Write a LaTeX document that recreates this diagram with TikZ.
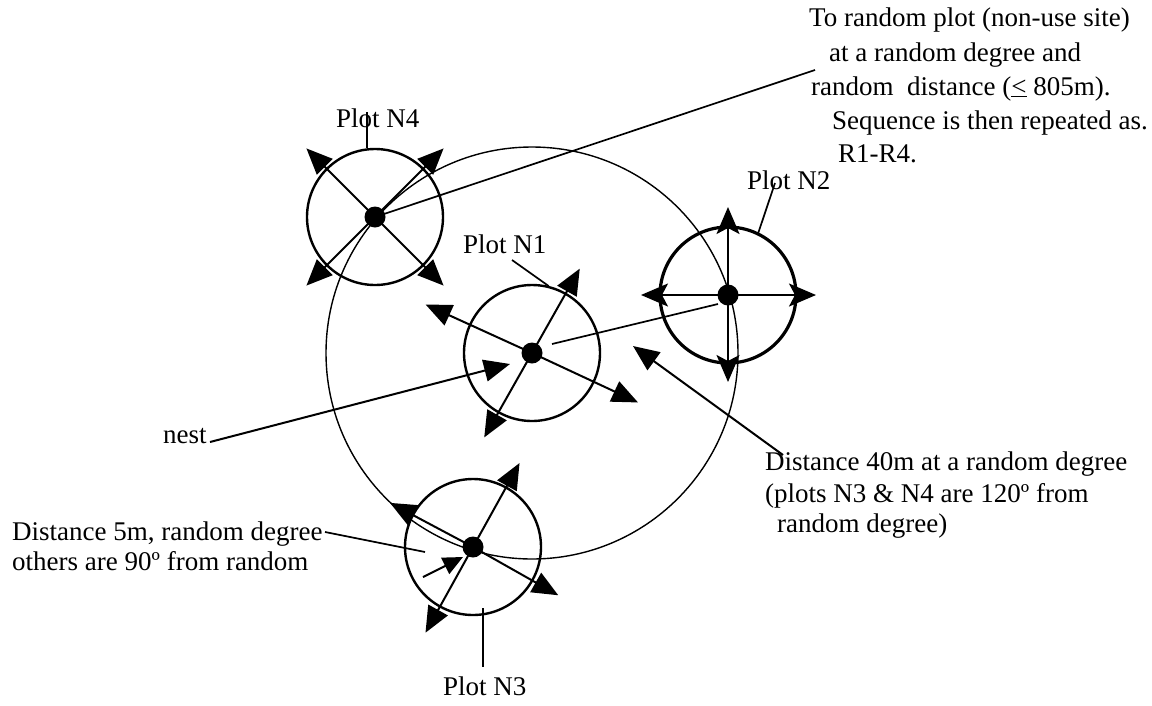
\documentclass[tikz,border=0pt]{standalone}
\usepackage{fontspec}
\setmainfont{Liberation Serif}
\usetikzlibrary{arrows.meta,calc}
\begin{document}
\begin{tikzpicture}[x=1pt,y=-1pt,
  txt/.style={font=\fontsize{27}{33}\selectfont, inner sep=0pt, anchor=base west},
  dot/.style={circle, fill=black, inner sep=0pt, minimum size=21pt},
  ring/.style={circle, draw, line width=2.4pt, inner sep=0pt, minimum size=136pt},
  arr/.style={line width=2pt, -{Triangle[length=26pt,width=22pt]}},
  karr/.style={line width=2pt, -{Stealth[length=27pt,width=23pt,inset=6pt]}},
  lead/.style={line width=1.7pt},
  big/.style={line width=1.4pt},
]
\useasboundingbox (0,0) rectangle (1152,705);

% plot centres
\coordinate (p1) at (532,353);
\coordinate (p2) at (728,295);
\coordinate (p3) at (473,547);
\coordinate (p4) at (375,217);

% large 40 m circle
\draw[big] (p1) circle [radius=206];

% plot circles
\node[ring] (c1) at (p1) {};
\node[ring, line width=3.2pt] (c2) at (p2) {};
\node[ring] (c3) at (p3) {};
\node[ring] (c4) at (p4) {};

% arrow tips
\coordinate (t1a) at ($(p1)+(-60.5:97)$);
\coordinate (t1b) at ($(p1)+(25:117)$);
\coordinate (t1c) at ($(p1)+(-240.5:97)$);
\coordinate (t1d) at ($(p1)+(-155.5:117)$);
\coordinate (t2a) at ($(p2)+(0,-88)$);
\coordinate (t2b) at ($(p2)+(88,0)$);
\coordinate (t2c) at ($(p2)+(0,87)$);
\coordinate (t2d) at ($(p2)+(-87,0)$);
\coordinate (t3a) at ($(p3)+(-61:96)$);
\coordinate (t3b) at ($(p3)+(29.5:98)$);
\coordinate (t3c) at ($(p3)+(-241:98)$);
\coordinate (t3d) at ($(p3)+(-152:94)$);
\coordinate (t4a) at ($(p4)+(-45:97)$);
\coordinate (t4b) at ($(p4)+(-135:97)$);
\coordinate (t4c) at ($(p4)+(-225:97)$);
\coordinate (t4d) at ($(p4)+(-315:97)$);

\foreach \i in {1,3,4}{
  \foreach \j in {a,b,c,d}{
    \draw[arr] (p\i) -- (t\i\j);
  }
}
\foreach \j in {a,b,c,d}{
  \draw[karr] (p2) -- (t2\j);
}

% connectors
\coordinate (rp) at (815,70);
\draw[lead] (p4) -- (rp);
\coordinate (n2s) at (718,304);
\coordinate (n1e) at (552,344);
\draw[lead] (n2s) -- (n1e);

% texts
\node[txt] (l1) at (809,26) {To random plot (non-use site)};
\node[txt] (l2) at (829,61) {at a random degree and};
\node[txt] (l3) at (811,95) {random\ \ distance (\underline{<} 805m).};
\node[txt] (l4) at (832,129) {Sequence is then repeated as.};
\node[txt] (l5) at (838,162) {R1-R4.};

\node[txt] (pn4) at (336,127) {Plot N4};
\node[txt] (pn2) at (747,189) {Plot N2};
\node[txt] (pn1) at (463,253) {Plot N1};
\node[txt] (pn3) at (443,695) {Plot N3};

\node[txt] (nest) at (163,443) {nest};
\node[txt] (d40a) at (765,470) {Distance 40m at a random degree};
\node[txt] (d40b) at (765,502) {(plots N3 \& N4 are 120º from};
\node[txt] (d40c) at (777,532) {random degree)};
\node[txt] (d5a) at (12,540) {Distance 5m, random degree};
\node[txt] (d5b) at (12,570) {others are 90º from random};

% label leaders
\draw[lead] (367,112) -- (c4.north -| 367,0);
\draw[lead] (775,183) -- ($(p2)+(-64:69)$);
\draw[lead] (512,260) -- ($(p1)+(-76:69)$);
\draw[lead] (483,608) -- (483,667);

% pointer arrows
\coordinate (nestS) at (210,442);
\coordinate (nestT) at (510,364);
\draw[arr] (nestS) -- (nestT);
\coordinate (d40S) at (783,455);
\coordinate (d40T) at (633,346);
\draw[arr] (d40S) -- (d40T);
\coordinate (d5S) at (325,532);
\coordinate (d5E) at (425,552);
\draw[lead] (d5S) -- (d5E);
\coordinate (s3S) at (423,577);
\coordinate (s3T) at (463,557);
\draw[line width=2pt, -{Triangle[length=20pt,width=18pt]}] (s3S) -- (s3T);

% dots
\node[dot] (n1) at (p1) {};
\node[dot] (n2) at (p2) {};
\node[dot] (n3) at (p3) {};
\node[dot] (n4) at (p4) {};
\end{tikzpicture}
\end{document}
